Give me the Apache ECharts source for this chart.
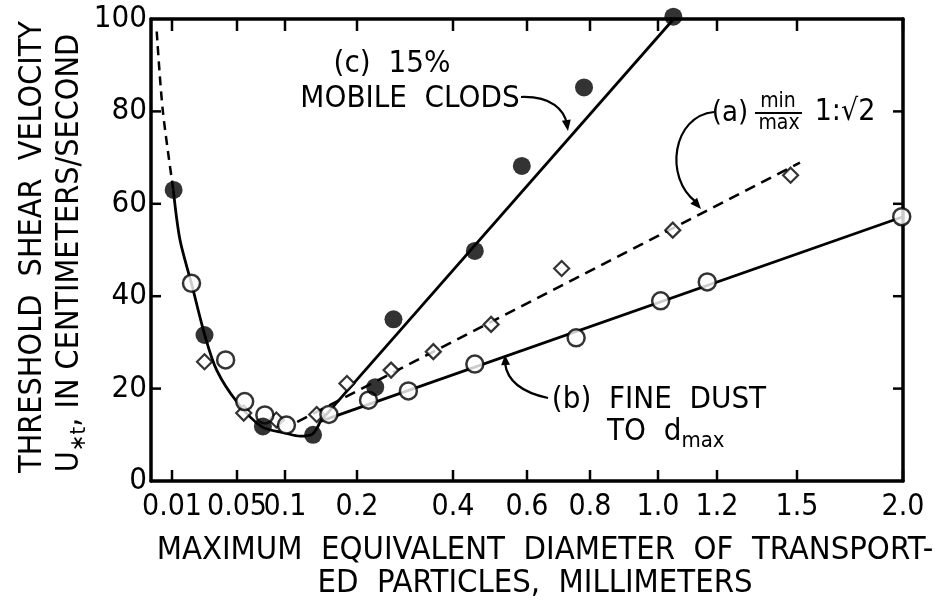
<!DOCTYPE html>
<html>
<head>
<meta charset="utf-8">
<script src="https://cdn.jsdelivr.net/npm/echarts@6/dist/echarts.min.js"></script>
<style>
  html, body { margin: 0; padding: 0; background: #fff; }
  #chart { width: 936px; height: 603px; }
</style>
</head>
<body>
<div id="chart"></div>
<script>
// printed x scale is not linear: tick values and where each tick sits along the axis (0..752)
var xTicks = [0.01, 0.05, 0.1, 0.2, 0.4, 0.6, 0.8, 1.0, 1.2, 1.5, 2.0];
var xTickLabels = ['0.01', '0.05', '0.1', '0.2', '0.4', '0.6', '0.8', '1.0', '1.2', '1.5', '2.0'];
var xTickAt = [21, 86, 134, 206, 302, 376, 439, 507, 566, 646, 752];
var yTicks = [20, 40, 60, 80];

// (c) 15% mobile clods - filled circles
var clodsD = [0.011, 0.030, 0.077, 0.139, 0.238, 0.276, 0.459, 0.586, 0.781, 1.052];
var clodsU = [63.0, 31.6, 11.8, 10.0, 20.3, 35.0, 49.8, 68.2, 85.2, 100.5];

// (b) fine dust to dmax - open circles
var dustD = [0.022, 0.043, 0.058, 0.079, 0.102, 0.161, 0.224, 0.307, 0.459, 0.756, 1.009, 1.167, 1.994];
var dustU = [42.8, 26.2, 17.2, 14.3, 12.1, 14.4, 17.5, 19.5, 25.3, 31.0, 39.0, 43.1, 57.2];

// (a) min/max 1:sqrt2 - diamonds
var ratioD = [0.030, 0.057, 0.091, 0.144, 0.186, 0.271, 0.359, 0.503, 0.710, 1.050, 1.476];
var ratioU = [25.8, 14.7, 13.2, 14.4, 21.1, 24.0, 28.0, 33.9, 46.0, 54.3, 66.2];

// fitted curves
var curveTopD = [0.0006, 0.0043, 0.0108];
var curveTopU = [97.3, 80.3, 63.0];
var curveD = [0.0108, 0.0149, 0.0221, 0.0303, 0.0375, 0.050, 0.076, 0.100, 0.121, 0.1385, 0.149];
var curveU = [63.0, 52.2, 42.6, 31.4, 24.0, 17.1, 11.7, 10.4, 9.7, 10.2, 12.9];
var lineCD = [0.149, 1.053], lineCU = [12.9, 100];
var lineBD = [0.149, 2.0], lineBU = [12.9, 57.2];
var lineAD = [0.117, 1.514], lineAU = [12.8, 68.9];

function toAxis(d) {
  var i = 0;
  while (i < xTicks.length - 2 && d > xTicks[i + 1]) i++;
  var t = (d - xTicks[i]) / (xTicks[i + 1] - xTicks[i]);
  return xTickAt[i] + t * (xTickAt[i + 1] - xTickAt[i]);
}
function pts(D, U) {
  return D.map(function (d, i) { return [toAxis(d), U[i]]; });
}

var FONT = '"DejaVu Sans Condensed", "Liberation Sans Narrow", "DejaVu Sans", sans-serif';
var ink = '#000';

function arrowHead(tx, ty, fx, fy, len, half) {
  var dx = tx - fx, dy = ty - fy, l = Math.sqrt(dx * dx + dy * dy);
  dx /= l; dy /= l;
  var bx = tx - dx * len, by = ty - dy * len;
  return {
    type: 'polygon',
    shape: { points: [[tx, ty], [bx - dy * half, by + dx * half], [bx + dy * half, by - dx * half]] },
    style: { fill: ink }
  };
}
function label(x, y, text, size, align) {
  return {
    type: 'text', x: x, y: y,
    style: { text: text, font: size + 'px ' + FONT, fill: ink, textAlign: align || 'center', textVerticalAlign: 'middle' }
  };
}
function seg(x1, y1, x2, y2, w) {
  return { type: 'line', shape: { x1: x1, y1: y1, x2: x2, y2: y2 }, style: { stroke: ink, lineWidth: w || 2.5 }, z: 10 };
}

var chart = echarts.init(document.getElementById('chart'));

function axisLine() { return { show: true, onZero: false, lineStyle: { color: ink, width: 3.5 } }; }

var graphics = [
  // axis titles
  {
    type: 'text', x: 33, y: 247, rotation: Math.PI / 2,
    style: { text: 'THRESHOLD  SHEAR  VELOCITY', font: '32px ' + FONT, fill: ink, textAlign: 'center', textVerticalAlign: 'middle' }
  },
  {
    type: 'text', x: 70, y: 253, rotation: Math.PI / 2,
    style: {
      text: '{u|U}{s|\u2217t}{u|, IN CENTIMETERS/SECOND}', fill: ink, textAlign: 'center', textVerticalAlign: 'middle',
      rich: {
        u: { fontSize: 32, fontFamily: FONT, lineHeight: 40, verticalAlign: 'middle' },
        s: { fontSize: 22, fontFamily: FONT, lineHeight: 40, verticalAlign: 'bottom' }
      }
    }
  },
  label(545, 551, 'MAXIMUM  EQUIVALENT  DIAMETER  OF  TRANSPORT-', 32.5),
  label(535, 584, 'ED  PARTICLES,  MILLIMETERS', 32.5),
  // (c) label
  label(392, 64, '(c)  15%', 31),
  label(410, 99, 'MOBILE  CLODS', 31),
  {
    type: 'bezierCurve',
    shape: { x1: 521, y1: 97, cpx1: 552, cpy1: 96, cpx2: 564, cpy2: 110, x2: 567, y2: 124 },
    style: { stroke: ink, lineWidth: 2.2, fill: null }
  },
  arrowHead(568, 131, 565, 112, 11, 4.5),
  // (a) label
  label(730, 113, '(a)', 29),
  label(778, 102, 'min', 21),
  seg(755, 113, 802, 113, 1.8),
  label(779, 124, 'max', 21),
  label(845, 112, '1:\u221a2', 30),
  {
    type: 'bezierCurve',
    shape: { x1: 714, y1: 112, cpx1: 672, cpy1: 116, cpx2: 664, cpy2: 178, x2: 696, y2: 202 },
    style: { stroke: ink, lineWidth: 2.2, fill: null }
  },
  arrowHead(701, 209, 686, 192, 11, 4.5),
  // (b) label
  label(659, 400, '(b)  FINE  DUST', 31),
  {
    type: 'text', x: 607, y: 432,
    style: {
      text: '{u|TO  d}{s|max}', fill: ink, textAlign: 'left', textVerticalAlign: 'middle',
      rich: {
        u: { fontSize: 31, fontFamily: FONT, lineHeight: 40, verticalAlign: 'middle' },
        s: { fontSize: 22, fontFamily: FONT, lineHeight: 40, verticalAlign: 'bottom' }
      }
    }
  },
  {
    type: 'bezierCurve',
    shape: { x1: 548, y1: 398, cpx1: 520, cpy1: 392, cpx2: 507, cpy2: 380, x2: 505, y2: 363 },
    style: { stroke: ink, lineWidth: 2.2, fill: null }
  },
  arrowHead(505, 355, 506, 372, 10, 4.5)
];

var option = {
  backgroundColor: '#fff',
  animation: false,
  grid: { left: 151, right: 33, top: 19, bottom: 122, outerBoundsMode: 'none' },
  xAxis: [
    {
      type: 'value', min: 0, max: 752, position: 'bottom',
      axisLine: axisLine(),
      axisTick: { show: false },
      axisLabel: {
        customValues: xTickAt, margin: 11, fontSize: 30, color: ink, fontFamily: FONT,
        formatter: function (v) { return xTickLabels[xTickAt.indexOf(v)]; }
      },
      splitLine: { show: false }
    },
    {
      type: 'value', min: 0, max: 752, position: 'top',
      axisLine: axisLine(), axisTick: { show: false }, axisLabel: { show: false }, splitLine: { show: false }
    }
  ],
  yAxis: [
    {
      type: 'value', min: 0, max: 100, interval: 20, position: 'left',
      axisLine: axisLine(), axisTick: { show: false },
      axisLabel: { margin: 4, fontSize: 31, color: ink, fontFamily: FONT },
      splitLine: { show: false }
    },
    {
      type: 'value', min: 0, max: 100, interval: 20, position: 'right',
      axisLine: axisLine(), axisTick: { show: false }, axisLabel: { show: false }, splitLine: { show: false }
    }
  ],
  series: [
    {
      name: 'curve top', type: 'line', data: pts(curveTopD, curveTopU), symbol: 'none', smooth: 0.3,
      lineStyle: { color: ink, width: 2.5, type: [9, 6] }, clip: false
    },
    {
      name: 'curve', type: 'line', data: pts(curveD, curveU), symbol: 'none', smooth: 0.3,
      lineStyle: { color: ink, width: 2.8 }
    },
    {
      name: '(c)', type: 'line', data: pts(lineCD, lineCU), symbol: 'none',
      lineStyle: { color: ink, width: 2.8 }
    },
    {
      name: '(b)', type: 'line', data: pts(lineBD, lineBU), symbol: 'none',
      lineStyle: { color: ink, width: 2.8 }
    },
    {
      name: '(a)', type: 'line', data: pts(lineAD, lineAU), symbol: 'none',
      lineStyle: { color: ink, width: 2.6, type: [11, 7] }
    },
    {
      name: 'ratio', type: 'scatter', data: pts(ratioD, ratioU), symbol: 'diamond', symbolSize: 15,
      itemStyle: { color: '#fff', borderColor: ink, borderWidth: 2.2 }, z: 3, clip: false
    },
    {
      name: 'dust', type: 'scatter', data: pts(dustD, dustU), symbol: 'circle', symbolSize: 17,
      itemStyle: { color: '#fff', borderColor: ink, borderWidth: 2.5 }, z: 4, clip: false
    },
    {
      name: 'clods', type: 'scatter', data: pts(clodsD, clodsU), symbol: 'circle', symbolSize: 18,
      itemStyle: { color: ink }, z: 5, clip: false
    }
  ],
  graphic: graphics
};

chart.setOption(option);

// inward ticks on all four sides, placed through the axes' own scale
var finder = { xAxisIndex: 0, yAxisIndex: 0 };
var tickMarks = [];
xTickAt.forEach(function (u) {
  var b = chart.convertToPixel(finder, [u, 0]);
  var t = chart.convertToPixel(finder, [u, 100]);
  tickMarks.push(seg(b[0], b[1], b[0], b[1] - 11), seg(t[0], t[1], t[0], t[1] + 12));
});
yTicks.forEach(function (v) {
  var l = chart.convertToPixel(finder, [0, v]);
  var r = chart.convertToPixel(finder, [752, v]);
  tickMarks.push(seg(l[0], l[1], l[0] + 10, l[1]), seg(r[0], r[1], r[0] - 10, r[1]));
});
chart.setOption({ graphic: graphics.concat(tickMarks) });
</script>
</body>
</html>
